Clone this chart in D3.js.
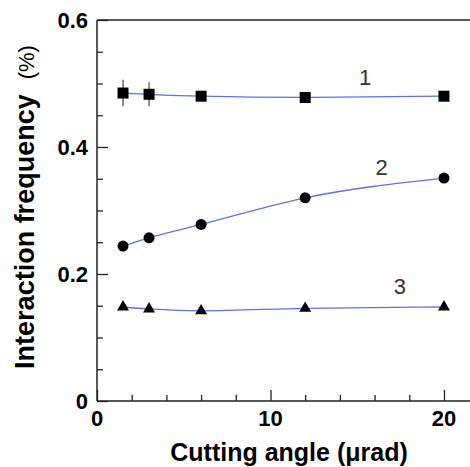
<!DOCTYPE html>
<html>
<head>
<meta charset="utf-8">
<script src="https://cdn.jsdelivr.net/npm/d3@7"></script>
<style>
  body { margin: 0; background: #fff; }
  text { font-family: "Liberation Sans", Arial, sans-serif; }
</style>
</head>
<body>
<script>
// data
var angles = [1.5, 3, 6, 12, 20];
var series1 = [0.485, 0.483, 0.480, 0.478, 0.480];
var series2 = [0.244, 0.257, 0.278, 0.320, 0.351];
var series3 = [0.148, 0.145, 0.142, 0.146, 0.148];
var err1 = [0.021, 0.019, 0.006, 0, 0];
var curveLabels = ["1", "2", "3"];
var labelPos = [[15.45, 0.510], [16.4, 0.368], [17.46, 0.180]];
var yTicks = [0, 0.2, 0.4, 0.6];
var xTicks = [0, 10, 20];

var W = 470, H = 467;
var margin = {top: 20, right: 0, bottom: 66, left: 97};
var width = W - margin.left - margin.right,
    height = H - margin.top - margin.bottom;

var x = d3.scaleLinear().domain([0, 21.5]).range([0, width]);
var y = d3.scaleLinear().domain([0, 0.6]).range([height, 0]);

var svg = d3.select("body").append("svg")
    .attr("width", W)
    .attr("height", H)
  .append("g")
    .attr("transform", "translate(" + margin.left + "," + margin.top + ")");

// frame: left, bottom, top
svg.append("line").attr("x1", 0).attr("x2", 0).attr("y1", 0).attr("y2", height)
  .attr("stroke", "#222").attr("stroke-width", 1.5);
svg.append("line").attr("x1", 0).attr("x2", width).attr("y1", height).attr("y2", height)
  .attr("stroke", "#222").attr("stroke-width", 1.5);
svg.append("line").attr("x1", 0).attr("x2", width).attr("y1", 0).attr("y2", 0)
  .attr("stroke", "#222").attr("stroke-width", 1.5);

// y ticks (inward)
var yAxis = svg.append("g")
  .call(d3.axisRight(y).tickValues(d3.range(0, 0.6001, 0.05)).tickSize(6).tickFormat(""));
yAxis.select(".domain").remove();
yAxis.selectAll(".tick line")
  .attr("stroke", "#222").attr("stroke-width", 1.3)
  .attr("x2", function(d) { return Math.abs(d / 0.2 - Math.round(d / 0.2)) < 1e-6 ? 11 : 6; });

svg.selectAll(".ylab")
  .data(yTicks)
  .enter().append("text")
    .attr("x", -9)
    .attr("y", function(d) { return y(d); })
    .attr("dy", "0.36em")
    .attr("text-anchor", "end")
    .attr("font-size", 22).attr("font-weight", "bold")
    .text(function(d) { return d === 0 ? "0" : d3.format(".1f")(d); });

// x ticks (inward)
var xAxis = svg.append("g")
  .attr("transform", "translate(0," + height + ")")
  .call(d3.axisTop(x).tickValues(d3.range(0, 21, 2)).tickSize(6).tickFormat(""));
xAxis.select(".domain").remove();
xAxis.selectAll(".tick line")
  .attr("stroke", "#222").attr("stroke-width", 1.3)
  .attr("y2", function(d) { return d % 10 === 0 ? -11 : -6; });

svg.selectAll(".xlab")
  .data(xTicks)
  .enter().append("text")
    .attr("x", function(d) { return x(d); })
    .attr("y", height + 25)
    .attr("text-anchor", "middle")
    .attr("font-size", 22).attr("font-weight", "bold")
    .text(function(d) { return d; });

// axis titles
svg.append("text")
  .attr("x", 192)
  .attr("y", height + 60)
  .attr("text-anchor", "middle")
  .attr("font-size", 25).attr("font-weight", "bold")
  .text("Cutting angle (\u03bcrad)");

var yt = svg.append("text")
  .attr("transform", "translate(-63,187) rotate(-90)")
  .attr("text-anchor", "middle")
  .attr("font-size", 27).attr("font-weight", "bold");
yt.append("tspan").text("Interaction frequency\u00a0\u00a0");
yt.append("tspan").attr("font-weight", "normal").attr("font-size", 22).text("(%)");

// curves
var line = d3.line()
  .x(function(d, i) { return x(angles[i]); })
  .y(function(d) { return y(d); })
  .curve(d3.curveMonotoneX);

[series1, series2, series3].forEach(function(s) {
  svg.append("path")
    .datum(s)
    .attr("d", line)
    .attr("fill", "none")
    .attr("stroke", "#5f6ff0")
    .attr("stroke-width", 1.3);
});

// error bars on series 1
svg.selectAll(".err")
  .data(err1)
  .enter().append("line")
    .attr("x1", function(d, i) { return x(angles[i]); })
    .attr("x2", function(d, i) { return x(angles[i]); })
    .attr("y1", function(d, i) { return y(series1[i] + d); })
    .attr("y2", function(d, i) { return y(series1[i] - d); })
    .attr("stroke", "#444").attr("stroke-width", 1.2);

// markers
svg.selectAll(".sq")
  .data(series1)
  .enter().append("rect")
    .attr("x", function(d, i) { return x(angles[i]) - 5.5; })
    .attr("y", function(d) { return y(d) - 5.5; })
    .attr("width", 11).attr("height", 11)
    .attr("fill", "#000");

svg.selectAll(".dot")
  .data(series2)
  .enter().append("circle")
    .attr("cx", function(d, i) { return x(angles[i]); })
    .attr("cy", function(d) { return y(d); })
    .attr("r", 5.5)
    .attr("fill", "#000");

var tri = d3.symbol().type(d3.symbolTriangle).size(62);
svg.selectAll(".tri")
  .data(series3)
  .enter().append("path")
    .attr("d", tri)
    .attr("transform", function(d, i) { return "translate(" + x(angles[i]) + "," + y(d) + ")"; })
    .attr("fill", "#000");

// curve numbers
svg.selectAll(".cl")
  .data(curveLabels)
  .enter().append("text")
    .attr("x", function(d, i) { return x(labelPos[i][0]); })
    .attr("y", function(d, i) { return y(labelPos[i][1]); })
    .attr("dy", "0.35em")
    .attr("text-anchor", "middle")
    .attr("font-size", 22)
    .attr("fill", "#333")
    .text(function(d) { return d; });
</script>
</body>
</html>
